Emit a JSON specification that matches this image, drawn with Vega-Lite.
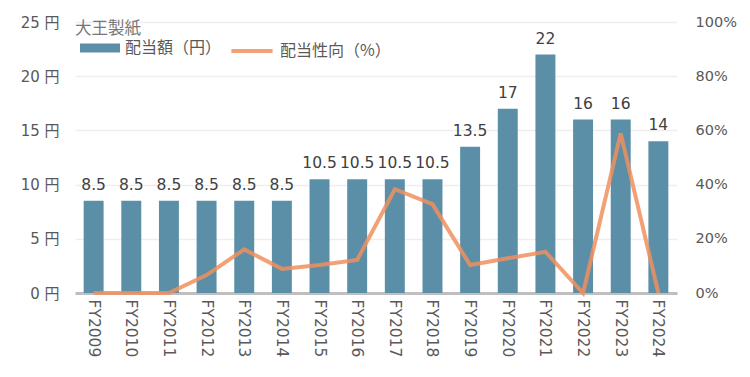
{
  "$schema": "https://vega.github.io/schema/vega-lite/v6.json",
  "width": 602,
  "height": 271,
  "autosize": {"type": "none"},
  "padding": {"left": 75, "top": 22, "right": 73, "bottom": 84},
  "background": "white",
  "config": {
    "view": {"stroke": null},
    "font": "DejaVu Sans, Noto Sans CJK JP",
    "axis": {"labelColor": "#595959", "labelFontSize": 15, "titleColor": "#595959"}
  },
  "title": {
    "text": "大王製紙",
    "anchor": "start",
    "frame": "group",
    "fontSize": 16.5,
    "fontWeight": "normal",
    "color": "#777777",
    "font": "Noto Sans CJK JP",
    "dy": 27
  },
  "data": {
    "values": [
      {"year": "FY2009", "div": 8.5, "payout": 0},
      {"year": "FY2010", "div": 8.5, "payout": 0},
      {"year": "FY2011", "div": 8.5, "payout": 0},
      {"year": "FY2012", "div": 8.5, "payout": 6.6},
      {"year": "FY2013", "div": 8.5, "payout": 16.1},
      {"year": "FY2014", "div": 8.5, "payout": 8.9},
      {"year": "FY2015", "div": 10.5, "payout": 10.3},
      {"year": "FY2016", "div": 10.5, "payout": 12.2},
      {"year": "FY2017", "div": 10.5, "payout": 38.3},
      {"year": "FY2018", "div": 10.5, "payout": 32.8},
      {"year": "FY2019", "div": 13.5, "payout": 10.3},
      {"year": "FY2020", "div": 17, "payout": 12.8},
      {"year": "FY2021", "div": 22, "payout": 15.2},
      {"year": "FY2022", "div": 16, "payout": 0},
      {"year": "FY2023", "div": 16, "payout": 58.9},
      {"year": "FY2024", "div": 14, "payout": 0}
    ]
  },
  "encoding": {
    "x": {
      "field": "year",
      "type": "nominal",
      "sort": null,
      "scale": {"paddingInner": 0.47, "paddingOuter": 0.23},
      "axis": {
        "title": null,
        "labelAngle": 90,
        "labelFontSize": 15.5,
        "labelPadding": 6,
        "ticks": false,
        "domainColor": "#BFBFBF",
        "domainWidth": 3
      }
    }
  },
  "layer": [
    {
      "encoding": {
        "y": {
          "field": "div",
          "type": "quantitative",
          "scale": {"domain": [0, 25], "nice": false},
          "axis": {
            "title": null,
            "values": [0, 5, 10, 15, 20, 25],
            "labelExpr": "datum.value + ' 円'",
            "labelPadding": 16,
            "domain": false,
            "ticks": false,
            "gridColor": "#EEEEEE",
            "gridWidth": 1.5
          }
        }
      },
      "layer": [
        {
          "mark": {"type": "bar", "color": "#5B8FA8"},
          "encoding": {
            "fill": {
              "datum": "配当額（円）",
              "scale": {"range": ["#5B8FA8"]},
              "legend": {
                "title": null,
                "orient": "none",
                "legendX": 5,
                "legendY": 6,
                "symbolType": "M-1,-0.22H1V0.22H-1Z",
                "symbolSize": 1600,
                "symbolStrokeWidth": 0,
                "labelFontSize": 16,
                "labelColor": "#595959",
                "labelFont": "Noto Sans CJK JP",
                "labelOffset": 5
              }
            }
          }
        },
        {
          "mark": {"type": "text", "baseline": "bottom", "dy": -8, "fontSize": 15.5, "color": "#404040"},
          "encoding": {
            "text": {"field": "div", "type": "quantitative"}
          }
        }
      ]
    },
    {
      "mark": {"type": "line", "strokeWidth": 4, "opacity": 0.85},
      "encoding": {
        "y": {
          "field": "payout",
          "type": "quantitative",
          "scale": {"domain": [0, 100], "nice": false},
          "axis": {
            "orient": "right",
            "title": null,
            "values": [0, 20, 40, 60, 80, 100],
            "labelExpr": "datum.value + '%'",
            "labelFontSize": 14.5,
            "labelPadding": 18,
            "grid": false,
            "domain": false,
            "ticks": false
          }
        },
        "stroke": {
          "datum": "配当性向（%）",
          "scale": {"range": ["#F0905E"]},
          "legend": {
            "title": null,
            "orient": "none",
            "legendX": 154,
            "legendY": 6,
            "symbolType": "stroke",
            "symbolSize": 1700,
            "symbolStrokeWidth": 4,
            "labelFontSize": 16,
            "labelColor": "#595959",
            "labelFont": "Noto Sans CJK JP",
            "labelOffset": 5
          }
        }
      }
    }
  ],
  "resolve": {"scale": {"y": "independent", "fill": "independent", "stroke": "independent"}}
}
